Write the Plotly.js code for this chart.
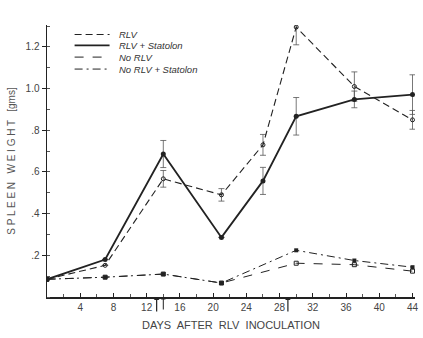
<!DOCTYPE html>
<html>
<head>
<meta charset="utf-8">
<script src="https://cdn.plot.ly/plotly-3.0.1.min.js"></script>
<style>html,body{margin:0;padding:0;background:#fff;}#chart{width:423px;height:338px;}</style>
</head>
<body>
<div id="chart"></div>
<script>
// Days after RLV inoculation
const days = [0, 7, 14, 21, 26, 30, 37, 44];
const rlv = [0.085, 0.152, 0.567, 0.49, 0.73, 1.295, 1.01, 0.85];
const rlvErr = [0, 0, 0.04, 0.03, 0.05, 0.085, 0.07, 0.045];
const rlvStat = [0.085, 0.18, 0.686, 0.286, 0.557, 0.867, 0.948, 0.971];
const rlvStatErr = [0, 0, 0.065, 0, 0.065, 0.09, 0.04, 0.095];
const daysLow = [0, 7, 14, 21, 30, 37, 44];
const noRlv = [0.085, 0.095, 0.11, 0.067, 0.162, 0.155, 0.124];
const noRlvStat = [0.085, 0.095, 0.11, 0.067, 0.224, 0.175, 0.143];
const xTickVals = [4, 8, 12, 16, 20, 24, 28, 32, 36, 40, 44];
const yTickVals = [0.2, 0.4, 0.6, 0.8, 1.0, 1.2];
const yTickText = ['.2', '.4', '.6', '.8', '1.0', '1.2'];
const names = ['RLV', 'RLV + Statolon', 'No RLV', 'No RLV + Statolon'];
const treatDays = [13.2, 14, 29];

const ink = '#222';
const dashes = ['7px,4px', 'solid', '9px,9px', '8px,4px,2px,4px'];
const widths = [1.1, 1.8, 1, 1];
const errStyle = {type: 'data', visible: true, color: '#555', thickness: 0.8, width: 3};

const traces = [
  {x: days, y: rlv, name: names[0], mode: 'lines+markers',
   line: {color: ink, width: widths[0], dash: dashes[0]},
   marker: {symbol: 'circle-open', size: 4, color: ink, line: {width: 1}},
   error_y: Object.assign({array: rlvErr}, errStyle)},
  {x: days, y: rlvStat, name: names[1], mode: 'lines+markers',
   line: {color: ink, width: widths[1]},
   marker: {symbol: 'circle', size: 5, color: ink},
   error_y: Object.assign({array: rlvStatErr}, errStyle)},
  {x: daysLow, y: noRlv, name: names[2], mode: 'lines+markers',
   line: {color: ink, width: widths[2], dash: dashes[2]},
   marker: {symbol: 'square-open', size: 4, color: ink, line: {width: 1}}},
  {x: daysLow, y: noRlvStat, name: names[3], mode: 'lines+markers',
   line: {color: ink, width: widths[3], dash: dashes[3]},
   marker: {symbol: 'square', size: 4, color: ink}}
];

const annotations = treatDays.map((d, i) => ({
  x: d, y: 0, xref: 'x', yref: 'y', showarrow: true, text: '',
  ax: 0, ay: i === 1 ? 14 : 16, arrowhead: 1, arrowsize: 0.8, arrowwidth: i === 1 ? 1 : 1.2,
  arrowcolor: ink, standoff: 0
}));

// Legend drawn as line samples + italic labels (lines only, as in the original)
const legX0 = 0.075, legX1 = 0.17, legTextX = 0.19;
const legY = [0.965, 0.925, 0.882, 0.838];
const shapes = [];
names.forEach((n, i) => {
  shapes.push({type: 'line', xref: 'paper', yref: 'paper', x0: legX0, x1: legX1, y0: legY[i], y1: legY[i],
    line: {color: ink, width: widths[i], dash: dashes[i]}});
  annotations.push({xref: 'paper', yref: 'paper', x: legTextX, y: legY[i], xanchor: 'left', yanchor: 'middle',
    text: n, showarrow: false, font: {size: 9.5, style: 'italic', color: '#333'}});
});

const layout = {
  width: 423, height: 338,
  margin: {l: 47, r: 8, t: 25, b: 41},
  paper_bgcolor: '#fff', plot_bgcolor: '#fff',
  font: {family: 'Liberation Sans, DejaVu Sans, sans-serif', color: '#333', size: 10},
  showlegend: false,
  xaxis: {range: [0, 44.3], showgrid: false, zeroline: false,
          showline: true, linecolor: ink, linewidth: 1.5,
          tickvals: xTickVals, ticks: 'inside', ticklen: 4, tickcolor: ink,
          minor: {dtick: 2, tick0: 0, ticks: 'inside', ticklen: 3, tickcolor: '#555'},
          tickfont: {size: 10, color: '#444'},
          title: {text: 'DAYS  AFTER  RLV  INOCULATION', font: {size: 11, color: '#444'}, standoff: 10}},
  yaxis: {range: [0, 1.305], showgrid: false, zeroline: false,
          showline: true, linecolor: ink, linewidth: 1.5,
          tickvals: yTickVals, ticktext: yTickText, ticks: 'outside', ticklen: 4, tickcolor: ink,
          minor: {dtick: 0.1, tick0: 0, ticks: 'inside', ticklen: 3, tickcolor: '#555'},
          tickfont: {size: 10, color: '#444'},
          title: {text: 'S P L E E N   W E I G H T   [gms]', font: {size: 10, color: '#555'}, standoff: 8}},
  shapes: shapes,
  annotations: annotations
};

Plotly.newPlot('chart', traces, layout, {displayModeBar: false, staticPlot: true});
</script>
</body>
</html>
